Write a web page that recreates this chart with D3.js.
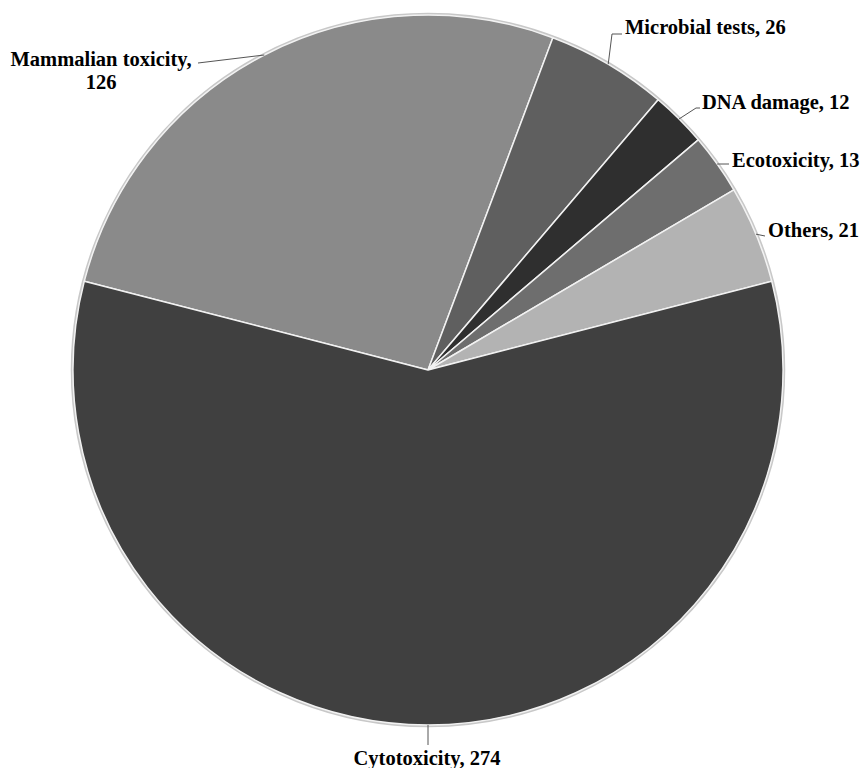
<!DOCTYPE html>
<html>
<head>
<meta charset="utf-8">
<script src="https://cdn.jsdelivr.net/npm/d3@7"></script>
<style>
    body { margin: 0; background: #fff; }
    svg { display: block; }
    .label { font-family: 'Liberation Serif', 'Times New Roman', serif; font-weight: bold; font-size: 20.5px; fill: #000; }
</style>
</head>
<body>
<svg width="861" height="768"></svg>
<script>
// Data
const categories = ['Mammalian toxicity', 'Microbial tests', 'DNA damage', 'Ecotoxicity', 'Others', 'Cytotoxicity'];
const counts = [126, 26, 12, 13, 21, 274];
const colors = ['#8a8a8a', '#5f5f5f', '#2f2f2f', '#6e6e6e', '#b3b3b3', '#404040'];

const svg = d3.select('svg');
const cx = 428, cy = 370, radius = 355;

// Rotate so that Cytotoxicity is centred at the bottom
const total = d3.sum(counts);
const beforeCyto = d3.sum(counts.slice(0, 5));
const cytoMid = (beforeCyto + counts[5] / 2) / total * 2 * Math.PI;
const start = Math.PI - cytoMid;

const pie = d3.pie().sort(null).startAngle(start).endAngle(start + 2 * Math.PI);
const arcs = pie(counts);
const arc = d3.arc().innerRadius(0).outerRadius(radius);

const g = svg.append('g').attr('transform', `translate(${cx},${cy})`);

// Soft outer rim
g.append('circle')
    .attr('r', radius + 1)
    .attr('fill', 'none')
    .attr('stroke', '#c8c8c8')
    .attr('stroke-width', 2.5);

g.selectAll('path.slice')
    .data(arcs)
    .enter()
    .append('path')
    .attr('class', 'slice')
    .attr('d', arc)
    .attr('fill', (d, i) => colors[i])
    .attr('stroke', '#f2f2f2')
    .attr('stroke-width', 1.5)
    .attr('stroke-linejoin', 'round');

// Label layout: leader line points after the rim point, text anchor and lines
const labelLayout = [
    { pts: [[198, 63]], x: 101, y: 66, anchor: 'middle', lines: ['Mammalian toxicity,', '126'] },
    { pts: [[612, 34], [622, 34]], x: 625, y: 34, anchor: 'start' },
    { pts: [[696, 108], [700, 108]], x: 702, y: 109, anchor: 'start' },
    { pts: [[729, 164]], x: 732, y: 167, anchor: 'start' },
    { pts: [[765, 236]], x: 768, y: 237, anchor: 'start' },
    { pts: [[428, 745]], x: 427, y: 765, anchor: 'middle' }
];

const midPoint = (d) => {
    const a = (d.startAngle + d.endAngle) / 2;
    return [cx + radius * Math.sin(a), cy - radius * Math.cos(a)];
};

const line = d3.line();
arcs.forEach((d, i) => {
    const lay = labelLayout[i];
    svg.append('path')
        .attr('d', line([midPoint(d), ...lay.pts]))
        .attr('fill', 'none')
        .attr('stroke', '#555')
        .attr('stroke-width', 1);

    const lines = lay.lines || [`${categories[i]}, ${counts[i]}`];
    const text = svg.append('text')
        .attr('class', 'label')
        .attr('text-anchor', lay.anchor)
        .attr('x', lay.x)
        .attr('y', lay.y);
    lines.forEach((t, k) => {
        text.append('tspan')
            .attr('x', lay.x)
            .attr('dy', k === 0 ? 0 : 23)
            .text(t);
    });
});
</script>
</body>
</html>
